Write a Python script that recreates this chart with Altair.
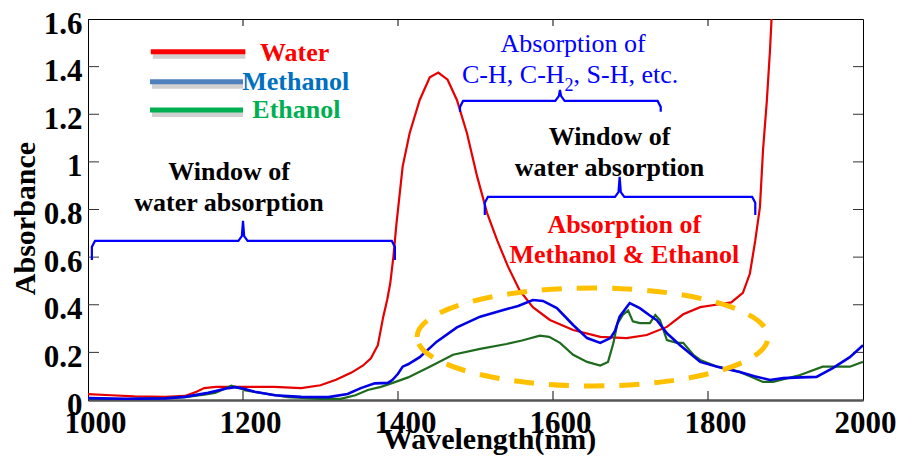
import altair as alt
import pandas as pd

FONT = "Liberation Serif"

# ---------------- data ----------------
wl_water = [1000, 1030, 1060, 1100, 1125, 1140, 1150, 1165, 1200, 1240, 1275, 1300, 1320, 1340,
            1355, 1365, 1374, 1381, 1386, 1390, 1394, 1398, 1406, 1415, 1428, 1441, 1452, 1464,
            1476, 1489, 1502, 1515, 1528, 1542, 1557, 1574, 1596, 1626, 1661, 1695, 1721, 1747,
            1768, 1790, 1810, 1830, 1845, 1854, 1861, 1867, 1871, 1876, 1880, 1882, 1884]
abs_water = [0.025, 0.02, 0.015, 0.013, 0.017, 0.035, 0.05, 0.055, 0.055, 0.055, 0.05, 0.062, 0.085, 0.115,
             0.145, 0.175, 0.23, 0.35, 0.42, 0.49, 0.60, 0.74, 0.98, 1.12, 1.26, 1.355, 1.375, 1.345,
             1.26, 1.12, 0.94, 0.785, 0.67, 0.56, 0.46, 0.39, 0.336, 0.294, 0.265, 0.26, 0.273, 0.307,
             0.36, 0.39, 0.40, 0.41, 0.45, 0.53, 0.67, 0.81, 1.05, 1.26, 1.47, 1.60, 1.70]

wl_meth = [1000, 1050, 1100, 1125, 1155, 1181, 1190, 1200, 1215, 1241, 1275, 1310, 1335, 1352,
           1370, 1387, 1393, 1400, 1406, 1413, 1428, 1450, 1476, 1506, 1536, 1555, 1574, 1587,
           1605, 1626, 1644, 1661, 1674, 1680, 1686, 1699, 1712, 1725, 1734, 1747, 1764, 1790,
           1812, 1841, 1860, 1880, 1897, 1920, 1940, 1961, 1983, 2000]
abs_meth = [0.008, 0.005, 0.007, 0.013, 0.03, 0.05, 0.054, 0.048, 0.035, 0.02, 0.013, 0.012, 0.025, 0.05,
            0.07, 0.072, 0.085, 0.11, 0.14, 0.15, 0.18, 0.245, 0.305, 0.35, 0.378, 0.395, 0.42, 0.416,
            0.386, 0.315, 0.26, 0.24, 0.26, 0.29, 0.35, 0.407, 0.386, 0.355, 0.335, 0.28, 0.23, 0.16,
            0.14, 0.118, 0.10, 0.084, 0.092, 0.095, 0.097, 0.134, 0.18, 0.23]

wl_eth = [1000, 1050, 1100, 1125, 1150, 1164, 1175, 1185, 1195, 1203, 1223, 1258, 1300, 1326,
          1345, 1361, 1378, 1396, 1413, 1441, 1471, 1506, 1540, 1560, 1583, 1595, 1609, 1626,
          1644, 1661, 1671, 1678, 1683, 1690, 1697, 1703, 1712, 1725, 1732, 1738, 1747, 1760,
          1768, 1781, 1790, 1812, 1841, 1871, 1884, 1919, 1948, 1983, 2000]
abs_eth = [0.004, 0.004, 0.008, 0.012, 0.022, 0.03, 0.045, 0.06, 0.05, 0.04, 0.03, 0.012, 0.005, 0.005,
           0.02, 0.042, 0.055, 0.075, 0.095, 0.14, 0.19, 0.215, 0.235, 0.25, 0.27, 0.265, 0.24, 0.19,
           0.16, 0.145, 0.16, 0.24, 0.32, 0.357, 0.376, 0.33, 0.323, 0.323, 0.357, 0.336, 0.252, 0.24,
           0.24, 0.19, 0.168, 0.14, 0.118, 0.076, 0.076, 0.105, 0.14, 0.14, 0.16]

x_ticks = [1000, 1200, 1400, 1600, 1800, 2000]
y_ticks = [0, 0.2, 0.4, 0.6, 0.8, 1.0, 1.2, 1.4, 1.6]
x_inner_ticks = [1200, 1400, 1600, 1800]
y_inner_ticks = [0.2, 0.4, 0.6, 0.8, 1.0, 1.2, 1.4]

# legend (hand-drawn in the reference)
leg_labels = ["Water", "Methanol", "Ethanol"]
leg_line_colors = ["#ff0000", "#4f81bd", "#00b050"]
leg_text_colors = ["#ff0000", "#0070c0", "#00b050"]
leg_y = [1.462, 1.336, 1.218]
leg_text_y = [1.458, 1.335, 1.216]
leg_x0 = [1081, 1080, 1080]
leg_x1 = [1203, 1200, 1200]
leg_text_x = [1222, 1199, 1212]

# braces: left end, right end, centre, bar level, end level, tip level
br_x0 = [1005, 1480, 1512]
br_x1 = [1396, 1739, 1861]
br_xc = [1200, 1609, 1686]
br_ybar = [0.668, 1.256, 0.853]
br_yend = [0.588, 1.21, 0.777]
br_ytip = [0.752, 1.302, 0.937]

# annotation texts
black_txt = ["Window of", "water absorption", "Window of", "water absorption"]
black_x = [1182, 1182, 1673, 1673]
black_y = [0.958, 0.827, 1.104, 0.975]
red_txt = ["Absorption of", "Methanol & Ethanol"]
red_x = [1692, 1692]
red_y = [0.733, 0.607]
blue_title = ["Absorption of"]
blue_title_x = [1626]
blue_title_y = [1.495]
chem_parts = ["C-H, C-H", "2", ", S-H, etc."]
chem_x = [1482.6, 1614.8, 1626.5]
chem_y = [1.364, 1.32, 1.364]
chem_size = [26, 18, 26]

# highlighted region (dashed ellipse)
ell_x = [1651]
ell_y = [0.2646]

# ---------------- build tables ----------------
series = pd.DataFrame(
    [("Water", w, a) for w, a in zip(wl_water, abs_water)]
    + [("Methanol", w, a) for w, a in zip(wl_meth, abs_meth)]
    + [("Ethanol", w, a) for w, a in zip(wl_eth, abs_eth)],
    columns=["series", "wl", "a"],
)

brace_rows = []
for i in range(len(br_x0)):
    x0, x1, xc, yb, ye, yt = br_x0[i], br_x1[i], br_xc[i], br_ybar[i], br_yend[i], br_ytip[i]
    pts = [(x0, ye), (x0, yb - 0.025), (x0 + 4, yb), (xc - 6, yb), (xc - 1.5, yb + 0.02),
           (xc, yt), (xc + 1.5, yb + 0.02), (xc + 6, yb), (x1 - 4, yb), (x1, yb - 0.025), (x1, ye)]
    for k, (px, py) in enumerate(pts):
        brace_rows.append({"id": i, "k": k, "x": px, "y": py})
braces = pd.DataFrame(brace_rows)

legend = pd.DataFrame({"label": leg_labels, "lc": leg_line_colors, "tc": leg_text_colors,
                       "y": leg_y, "ty": leg_text_y, "x0": leg_x0, "x1": leg_x1, "tx": leg_text_x})

xscale = alt.Scale(domain=[1000, 2000], nice=False, zero=False)
yscale = alt.Scale(domain=[0, 1.6], nice=False, zero=False)

xaxis = alt.Axis(values=x_ticks, format="d", title="Wavelength(nm)", grid=False,
                 labelFont=FONT, labelFontSize=31, labelFontWeight="bold", labelColor="black",
                 labelPadding=8,
                 labelOffset={"condition": {"test": "datum.value >= 2000", "value": 2}, "value": 7},
                 labelFlush=False, labelOverlap=False,
                 ticks=False, tickSize=0, domainColor="#555555", domainWidth=2.5,
                 titleFont=FONT, titleFontSize=30, titleFontWeight="bold", titleColor="black",
                 titleX=401, titleY=48, titleBaseline="alphabetic", titleAlign="center")
yaxis = alt.Axis(values=y_ticks, format="~g", title="Absorbance", grid=False,
                 labelFont=FONT, labelFontSize=31, labelFontWeight="bold", labelColor="black",
                 labelPadding=6, labelOffset=5, labelFlush=False, labelOverlap=False,
                 ticks=False, tickSize=0, domainColor="black", domainWidth=1,
                 titleFont=FONT, titleFontSize=30, titleFontWeight="bold", titleColor="black",
                 titleX=-54, titleY=199, titleBaseline="alphabetic", titleAngle=270, titleAlign="center")

X = lambda f: alt.X(f, type="quantitative", scale=xscale, axis=xaxis)
Y = lambda f: alt.Y(f, type="quantitative", scale=yscale, axis=yaxis)


def line_layer(name, color, width):
    return alt.Chart(series).transform_filter(alt.datum.series == name).mark_line(
        clip=True, color=color, strokeWidth=width
    ).encode(x=X("wl"), y=Y("a"))


water = line_layer("Water", "#e60000", 2.2)
ethanol = line_layer("Ethanol", "#1e6b1e", 2.2)
methanol = line_layer("Methanol", "#0000e6", 2.6)

# inward tick marks on all four sides
xt = pd.DataFrame({"v": x_inner_ticks})
yt = pd.DataFrame({"v": y_inner_ticks})
tick_bottom = alt.Chart(xt).mark_rule(color="#333333", strokeWidth=1.2).encode(
    x=X("v"), y=alt.value(381), y2=alt.value(372))
tick_top = alt.Chart(xt).mark_rule(color="black", strokeWidth=1).encode(
    x=X("v"), y=alt.value(0), y2=alt.value(7))
tick_left = alt.Chart(yt).mark_rule(color="#333333", strokeWidth=1).encode(
    y=Y("v"), x=alt.value(0), x2=alt.value(11))
tick_right = alt.Chart(yt).mark_rule(color="#333333", strokeWidth=1).encode(
    y=Y("v"), x=alt.value(775), x2=alt.value(765))

brace_layer = alt.Chart(braces).mark_line(color="#0000ff", strokeWidth=2.2).encode(
    x=X("x"), y=Y("y"), detail="id:N", order="k:Q")

# dashed ellipse (custom symbol path, unit half-width)
b = 0.279
kb = b * 0.5523
ell_path = (f"M -1 0 C -1 {-kb:.4f} -0.5523 {-b} 0 {-b} C 0.5523 {-b} 1 {-kb:.4f} 1 0 "
            f"C 1 {kb:.4f} 0.5523 {b} 0 {b} C -0.5523 {b} -1 {kb:.4f} -1 0 Z")
ellipse = alt.Chart(pd.DataFrame({"x": ell_x, "y": ell_y})).mark_point(
    shape=ell_path, size=351 * 351, filled=False, stroke="#ffc000", strokeWidth=5,
    strokeDash=[20, 15], opacity=1
).encode(x=X("x"), y=Y("y"))

# legend
leg_shadow = alt.Chart(legend).mark_rule(strokeWidth=6, color="#9a9a9a", opacity=0.45,
                                         yOffset=4, xOffset=2).encode(
    x=X("x0"), x2="x1", y=Y("y"))
leg_lines = alt.Chart(legend).mark_rule(strokeWidth=5).encode(
    x=X("x0"), x2="x1", y=Y("y"), color=alt.Color("lc:N", scale=None))
leg_text = alt.Chart(legend).mark_text(font=FONT, fontSize=26, fontWeight="bold", align="left",
                                       baseline="middle").encode(
    x=X("tx"), y=Y("ty"), text="label:N", color=alt.Color("tc:N", scale=None))

# annotation texts
t_black = alt.Chart(pd.DataFrame({"t": black_txt, "x": black_x, "y": black_y})).mark_text(
    font=FONT, fontSize=26, fontWeight="bold", color="black", align="center", baseline="middle"
).encode(x=X("x"), y=Y("y"), text="t:N")
t_red = alt.Chart(pd.DataFrame({"t": red_txt, "x": red_x, "y": red_y})).mark_text(
    font=FONT, fontSize=26, fontWeight="bold", color="#ff0000", align="center", baseline="middle"
).encode(x=X("x"), y=Y("y"), text="t:N")
t_blue = alt.Chart(pd.DataFrame({"t": blue_title, "x": blue_title_x, "y": blue_title_y})).mark_text(
    font=FONT, fontSize=26, color="#0000ff", align="center", baseline="middle"
).encode(x=X("x"), y=Y("y"), text="t:N")
t_chem = alt.Chart(pd.DataFrame({"t": chem_parts, "x": chem_x, "y": chem_y, "s": chem_size})).mark_text(
    font=FONT, color="#0000ff", align="left", baseline="middle"
).encode(x=X("x"), y=Y("y"), text="t:N", size=alt.Size("s:Q", scale=None, legend=None))

chart = alt.layer(
    tick_bottom, tick_top, tick_left, tick_right,
    water, ethanol, methanol,
    brace_layer, ellipse,
    leg_shadow, leg_lines, leg_text,
    t_black, t_red, t_blue, t_chem,
).properties(
    width=775, height=381,
    autosize=alt.AutoSizeParams(type="none"),
    padding={"left": 80, "top": 11, "right": 34, "bottom": 55},
    background="white",
).configure_view(stroke="black", strokeWidth=1)

chart.save("out.html", embed_options={"renderer": "svg", "actions": False})
